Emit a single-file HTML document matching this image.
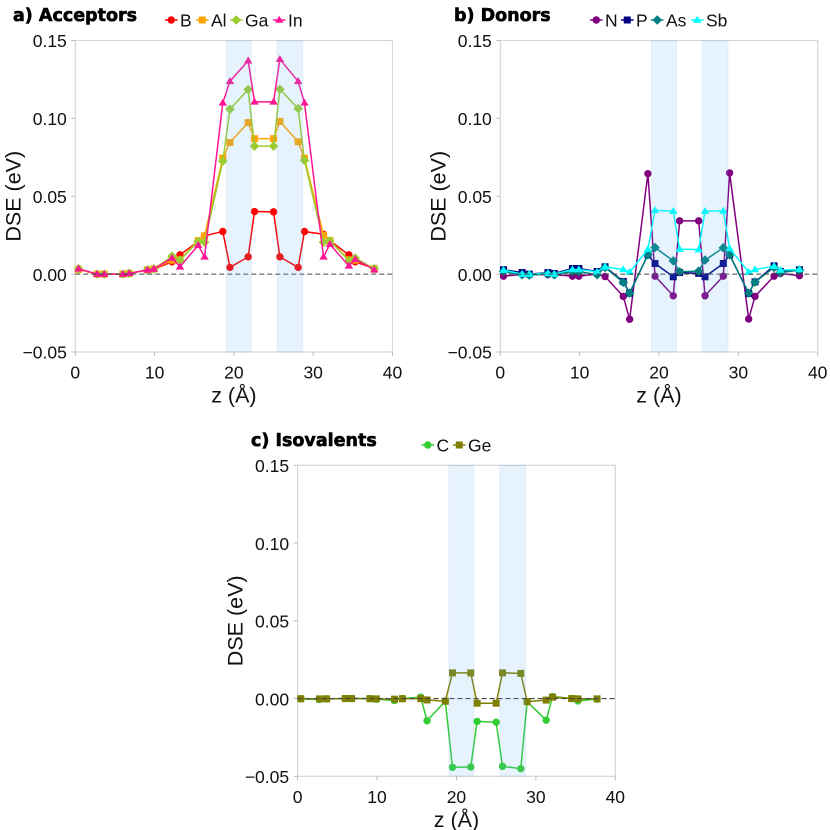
<!DOCTYPE html>
<html lang="en">
<head>
<meta charset="utf-8">
<title>Defect segregation energy charts</title>
<style>
html,body{margin:0;padding:0;background:#fff;width:830px;height:830px;overflow:hidden}
svg{display:block}
text{font-family:"Liberation Sans",sans-serif;fill:#111}
.title{font-family:"DejaVu Sans",sans-serif;font-weight:700;font-size:17.5px;fill:#000;stroke:#000;stroke-width:.6px}
.tick{font-size:17.5px}
.axis-title{font-size:21.5px}
.legend{font-size:17.5px}
</style>
</head>
<body>
<svg id="chart" xmlns="http://www.w3.org/2000/svg" width="830" height="830" viewBox="0 0 830 830">
<text class="title" x="13" y="21">a) Acceptors</text>
<text class="title" x="454" y="21">b) Donors</text>
<text class="title" x="251" y="446">c) Isovalents</text>
</svg>
<script>
const zPositions = [0.4,2.75,3.65,6,6.8,9.1,9.9,12.2,13.2,15.5,16.3,18.6,19.5,21.8,22.6,25,25.8,28.1,28.9,31.3,32.1,34.5,35.3,37.7];
const bandRanges = [[19.05,22.2],[25.45,28.7]];
const xTickValues = [0,10,20,30,40];
const xTickLabels = ['0','10','20','30','40'];
const yTickValues = [0.15,0.10,0.05,0,-0.05];
const yTickLabels = ['0.15','0.10','0.05','0.00','\u22120.05'];

const valuesB  = [.003,0,0,0,.0005,.0026,.0032,.0079,.0124,.021,.0246,.0274,.0043,.0111,.0402,.04,.0111,.0043,.0274,.0256,.0214,.0124,.0079,.0036];
const valuesAl = [.003,0,0,0,.0005,.0027,.0033,.009,.0092,.0215,.0245,.0745,.0845,.0973,.087,.087,.098,.085,.0745,.025,.0215,.0092,.009,.0035];
const valuesGa = [.0035,0,0,0,.0005,.0027,.0033,.0115,.009,.021,.0205,.0725,.1059,.1185,.0822,.0822,.1187,.1063,.073,.0205,.0214,.0085,.0103,.0035];
const valuesIn = [.0035,0,0,0,.0005,.0027,.0033,.0103,.0047,.0186,.0111,.11,.1238,.137,.1106,.1106,.138,.1238,.11,.0111,.0192,.0053,.0096,.0028];

const valuesN  = [-.0013,-.0002,-.0003,-.0003,-.0003,-.0013,-.0013,0,-.0015,-.0143,-.029,.0645,-.0013,-.0139,.0342,.0342,-.0139,-.0013,.065,-.0288,-.0143,-.0013,.0004,-.001];
const valuesP  = [.0028,.001,0,.001,.0004,.0036,.0036,.0017,.0047,-.0047,-.0122,.0124,.0068,-.0017,.001,.0005,-.0017,.0068,.0124,-.0124,-.005,.0053,.0017,.0028];
const valuesAs = [.0017,-.0004,-.0006,0,-.0004,.0017,.0017,-.0004,.0043,-.0053,-.0122,.0124,.0171,.0085,.0015,.0019,.009,.0169,.0124,-.0122,-.0051,.0043,.001,.0026];
const valuesSb = [.0026,0,0,.0006,0,.003,.003,.0015,.0047,.003,.0013,.016,.041,.0404,.016,.0158,.0404,.0406,.0165,.0013,.003,.0051,.0026,.003];

const valuesC  = [-.0002,-.0006,-.0002,0,0,0,-.0004,-.0013,0,.0009,-.0143,-.0017,-.0442,-.044,-.0147,-.0152,-.0436,-.0451,-.002,-.0139,.0013,0,-.0015,-.0004];
const valuesGe = [-.0001,-.0002,-.0002,0,0,-.0001,-.0002,-.0004,-.0001,0,-.0009,-.0017,.0165,.0165,-.003,-.003,.0165,.0162,-.002,-.001,.0009,0,-.0002,-.0002];

const NS = 'http://www.w3.org/2000/svg';
const root = document.getElementById('chart');

function make(tag, attrs, parent) {
  const el = document.createElementNS(NS, tag);
  for (const k in attrs) el.setAttribute(k, attrs[k]);
  (parent || root).appendChild(el);
  return el;
}

function drawMarker(shape, cx, cy, color, parent, label) {
  let m;
  if (shape === 'circle') {
    m = make('circle', {cx: cx, cy: cy, r: 3.7, fill: color}, parent);
  } else if (shape === 'square') {
    m = make('rect', {x: cx - 3.5, y: cy - 3.5, width: 7, height: 7, fill: color}, parent);
  } else if (shape === 'diamond') {
    m = make('polygon', {points: [cx, cy - 4.8, cx + 4.8, cy, cx, cy + 4.8, cx - 4.8, cy].join(','), fill: color}, parent);
  } else {
    m = make('polygon', {points: [cx, cy - 4.2, cx + 4.2, cy + 2.8, cx - 4.2, cy + 2.8].join(','), fill: color}, parent);
  }
  
  
  return m;
}

function drawPanel(panel) {
  const g = make('g', {});
  
  
  const sx = z => panel.left + (z / 40) * panel.width;
  const sy = v => panel.top + ((0.15 - v) / 0.20) * panel.height;
  const right = panel.left + panel.width;
  const bottom = panel.top + panel.height;

  const frame = make('rect', {x: panel.left, y: panel.top, width: panel.width, height: panel.height, fill: 'none', stroke: '#d6d6d6', 'stroke-width': 1.2}, g);
  
  

  xTickValues.forEach((t, i) => {
    const tick = make('line', {x1: sx(t), x2: sx(t), y1: bottom, y2: bottom + 4, stroke: '#bbb', 'stroke-width': 1}, g);
    
    
    const label = make('text', {x: sx(t), y: bottom + 26.5, 'text-anchor': 'middle', class: 'tick'}, g);
    label.textContent = xTickLabels[i];
    
    
  });

  yTickValues.forEach((t, i) => {
    const tick = make('line', {x1: panel.left - 4, x2: panel.left, y1: sy(t), y2: sy(t), stroke: '#bbb', 'stroke-width': 1}, g);
    
    
    const label = make('text', {x: panel.left - 8.5, y: sy(t) + 6.7, 'text-anchor': 'end', class: 'tick'}, g);
    label.textContent = yTickLabels[i];
    
    
  });

  const xTitle = make('text', {x: panel.left + panel.width / 2, y: bottom + 50.5, 'text-anchor': 'middle', class: 'axis-title'}, g);
  xTitle.textContent = 'z (\u00c5)';
  
  

  const cy = panel.top + panel.height / 2;
  const tx = panel.left - 55;
  const yTitle = make('text', {x: tx, y: cy, 'text-anchor': 'middle', class: 'axis-title', transform: 'rotate(-90 ' + tx + ' ' + cy + ')'}, g);
  yTitle.textContent = 'DSE (eV)';
  
  

  panel.series.forEach(s => {
    const sg = make('g', {}, g);
    
    
    const pts = s.values.map((v, i) => sx(zPositions[i]).toFixed(2) + ',' + sy(v).toFixed(2)).join(' ');
    const line = make('polyline', {points: pts, fill: 'none', stroke: s.color, 'stroke-width': 1.5, 'stroke-linejoin': 'round'}, sg);
    
    
    s.values.forEach((v, i) => {
      drawMarker(s.shape, sx(zPositions[i]), sy(v), s.color, sg, 'point-' + s.label);
    });
  });

  const zero = make('line', {x1: panel.left, x2: right, y1: sy(0), y2: sy(0), stroke: '#444', 'stroke-width': 1.1, 'stroke-dasharray': '5 3'}, g);
  
  

  bandRanges.forEach(r => {
    const band = make('rect', {x: sx(r[0]), y: panel.top, width: sx(r[1]) - sx(r[0]), height: panel.height, fill: 'rgb(100,180,245)', 'fill-opacity': 0.16, stroke: 'rgb(120,160,230)', 'stroke-opacity': 0.12, 'stroke-width': 1}, g);
    
    
  });

  panel.series.forEach((s, i) => {
    const lg = make('g', {}, g);
    
    
    const x0 = panel.legendX[i];
    const swatch = make('line', {x1: x0, x2: x0 + 12.5, y1: panel.legendY, y2: panel.legendY, stroke: s.color, 'stroke-width': 1.5}, lg);
    
    
    drawMarker(s.shape, x0 + 6.25, panel.legendY, s.color, lg, 'legend-marker');
    const text = make('text', {x: x0 + 15, y: panel.legendY + 6.5, class: 'legend'}, lg);
    text.textContent = s.label;
    
    
  });
}

drawPanel({
  name: 'acceptors', left: 75.3, top: 40.5, width: 317.2, height: 311.5,
  legendX: [165, 196, 230, 273], legendY: 20,
  series: [
    {label: 'B', values: valuesB, color: '#ff0000', shape: 'circle'},
    {label: 'Al', values: valuesAl, color: '#ffa500', shape: 'square'},
    {label: 'Ga', values: valuesGa, color: '#9acd32', shape: 'diamond'},
    {label: 'In', values: valuesIn, color: '#ff1493', shape: 'triangle'}
  ]
});
drawPanel({
  name: 'donors', left: 500.3, top: 40.5, width: 317.4, height: 311.5,
  legendX: [590, 621, 651, 691], legendY: 20,
  series: [
    {label: 'N', values: valuesN, color: '#800080', shape: 'circle'},
    {label: 'P', values: valuesP, color: '#000080', shape: 'square'},
    {label: 'As', values: valuesAs, color: '#008080', shape: 'diamond'},
    {label: 'Sb', values: valuesSb, color: '#00ffff', shape: 'triangle'}
  ]
});
drawPanel({
  name: 'isovalents', left: 297.6, top: 465.3, width: 317.7, height: 311,
  legendX: [421.5, 453], legendY: 445,
  series: [
    {label: 'C', values: valuesC, color: '#32cd32', shape: 'circle'},
    {label: 'Ge', values: valuesGe, color: '#808000', shape: 'square'}
  ]
});
</script>
</body>
</html>
